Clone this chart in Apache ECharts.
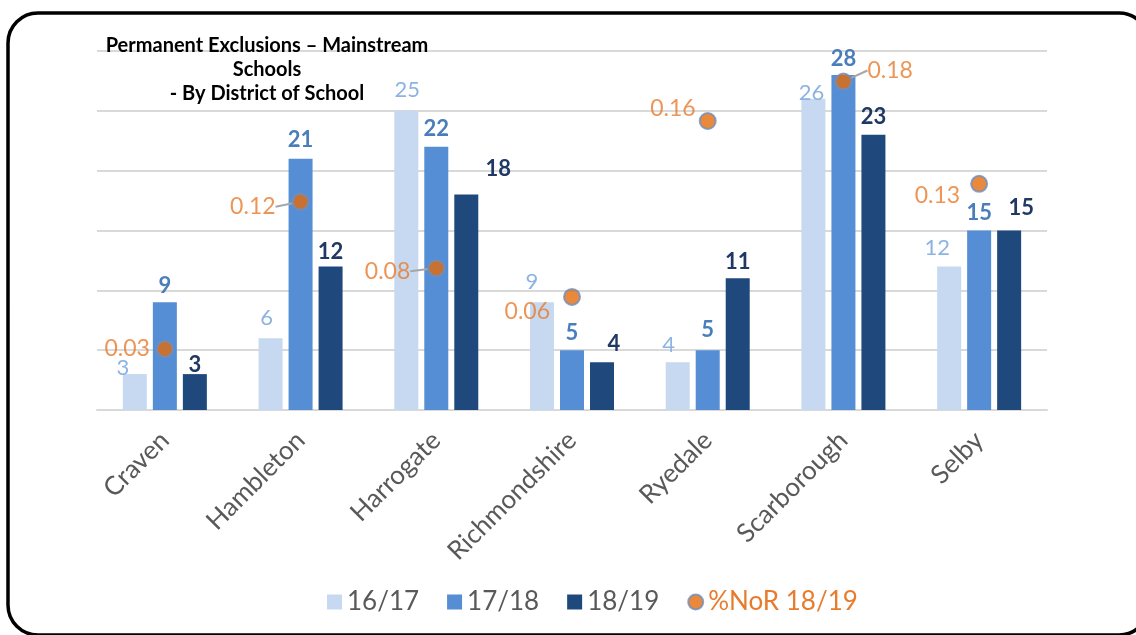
<!DOCTYPE html>
<html lang="en">
<head>
    <meta charset="UTF-8">
    <title>Permanent Exclusions</title>
    <script type="text/javascript" src="https://cdn.jsdelivr.net/npm/echarts@6/dist/echarts.min.js"></script>
    <style>
        html, body { margin: 0; padding: 0; background: #fff; }
        #container { width: 1136px; height: 635px; }
    </style>
</head>
<body>
<div id="container"></div>
<script type="text/javascript">
    // districts and values
    var districts = ['Craven', 'Hambleton', 'Harrogate', 'Richmondshire', 'Ryedale', 'Scarborough', 'Selby'];
    var excl1617 = [3, 6, 25, 9, 4, 26, 12];
    var excl1718 = [9, 21, 22, 5, 5, 28, 15];
    var excl1819 = [3, 12, 18, 4, 11, 23, 15];
    var norPct1819 = [0.034, 0.116, 0.079, 0.063, 0.161, 0.183, 0.126];
    var seriesNames = ['16/17', '17/18', '18/19', '%NoR 18/19'];

    // hand placed labels in the original, so nudge ours the same way [dx, dy]
    var barLabelShift = [
        [[-12, 8], [-4, -6], [1, -7], [-10, -6], [-9, -3], [-2, 8], [-12, -4]],
        [[0, -2], [0, -5], [0, -4], [0, -3], [0, -6], [0, -2], [0, -4]],
        [[0, 5], [0, 0], [32, -12], [12, -4], [0, -2], [0, -4], [12, -9]]
    ];
    var norLabelSide = ['left', 'left', 'left', 'left', 'left', 'right', 'left'];
    var norLabelShift = [[-1, 0], [-11, 5], [-12, 3], [-8, 15], [2, -12], [10, -11], [-5, 12]];
    var norLeader = [false, true, true, false, false, true, false];

    var FONT = 'Lato, "Open Sans", sans-serif';
    var barColors = ['#c6d9f1', '#558ed5', '#1f497d'];
    var barLabelColors = ['#8db3e2', '#4a7ebb', '#1f3864'];
    var orange = '#e46c0a';

    var dom = document.getElementById('container');
    var myChart = echarts.init(dom);

    function barSeries(name, values, i) {
        return {
            name: name,
            type: 'bar',
            data: values.map(function (v, j) {
                return {value: v, label: {offset: barLabelShift[i][j]}};
            }),
            barWidth: 24,
            barGap: '25%',
            itemStyle: {color: barColors[i]},
            label: {
                show: true,
                position: 'top',
                distance: 3,
                color: barLabelColors[i],
                fontFamily: FONT,
                fontSize: 22,
                fontWeight: i === 0 ? 'normal' : 'bold'
            }
        };
    }

    var norData = norPct1819.map(function (v, i) {
        return {
            value: v,
            label: {position: norLabelSide[i]},
            labelLine: {show: norLeader[i]}
        };
    });

    var option = {
        animation: false,
        backgroundColor: '#fff',
        textStyle: {fontFamily: FONT},
        grid: {left: 97, right: 89, top: 51, bottom: 225},
        graphic: [
            {
                type: 'rect',
                shape: {x: 8, y: 13, width: 1141, height: 622, r: 30},
                style: {fill: 'none', stroke: '#000', lineWidth: 3.5},
                silent: true
            },
            {
                type: 'text',
                x: 267,
                y: 34,
                style: {
                    text: 'Permanent Exclusions \u2013 Mainstream\nSchools\n- By District of School',
                    align: 'center',
                    verticalAlign: 'top',
                    fontFamily: FONT,
                    fontSize: 20,
                    fontWeight: 'bold',
                    lineHeight: 24,
                    fill: '#000'
                },
                z: 10
            }
        ],
        legend: {
            left: 322,
            top: 584,
            itemWidth: 15,
            itemHeight: 15,
            itemGap: 28,
            textStyle: {fontFamily: FONT, fontSize: 26, color: '#595959'},
            data: [
                {name: seriesNames[0], icon: 'rect'},
                {name: seriesNames[1], icon: 'rect'},
                {name: seriesNames[2], icon: 'rect'},
                {name: seriesNames[3], icon: 'circle', textStyle: {color: '#e97b2c'}}
            ]
        },
        xAxis: {
            type: 'category',
            data: districts,
            axisLine: {lineStyle: {color: '#d9d9d9', width: 2}},
            axisTick: {show: false},
            axisLabel: {
                rotate: 45,
                margin: 26,
                color: '#595959',
                fontFamily: FONT,
                fontSize: 26
            }
        },
        yAxis: [
            {
                type: 'value',
                min: 0,
                max: 30,
                interval: 5,
                axisLabel: {show: false},
                axisLine: {show: false},
                axisTick: {show: false},
                splitLine: {lineStyle: {color: '#d9d9d9', width: 2}}
            },
            {
                type: 'value',
                min: 0,
                max: 0.2,
                show: false,
                splitLine: {show: false}
            }
        ],
        series: [
            barSeries(seriesNames[0], excl1617, 0),
            barSeries(seriesNames[1], excl1718, 1),
            barSeries(seriesNames[2], excl1819, 2),
            {
                name: seriesNames[3],
                type: 'scatter',
                yAxisIndex: 1,
                data: norData,
                symbol: 'circle',
                symbolSize: 16,
                itemStyle: {color: orange, borderColor: '#6f8fc0', borderWidth: 2},
                label: {
                    show: true,
                    distance: 5,
                    color: '#e97b2c',
                    fontFamily: FONT,
                    fontSize: 23,
                    formatter: function (p) { return p.value.toFixed(2); }
                },
                labelLine: {lineStyle: {color: '#a6a6a6', width: 2}},
                labelLayout: function (p) {
                    var s = norLabelShift[p.dataIndex];
                    return {dx: s[0], dy: s[1]};
                },
                z: 5
            }
        ]
    };

    myChart.setOption(option);
</script>
</body>
</html>
